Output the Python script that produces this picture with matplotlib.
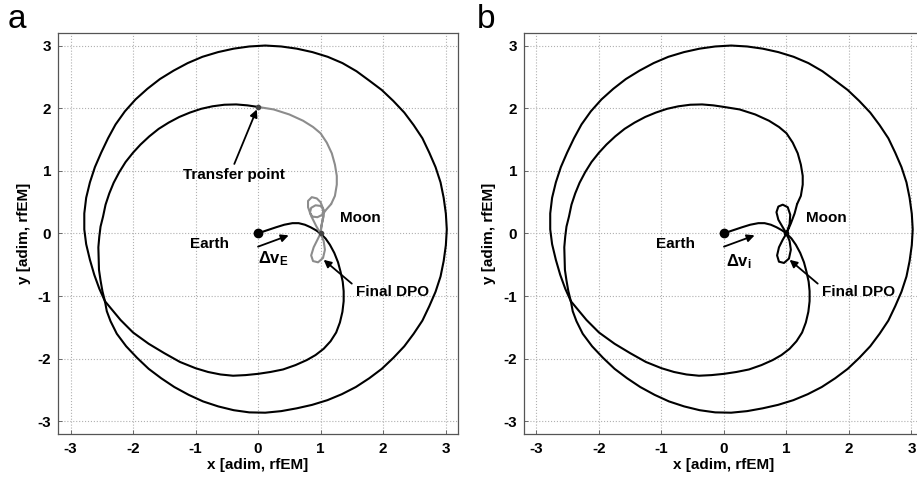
import matplotlib
matplotlib.use("Agg")
import matplotlib.pyplot as plt

plt.rcParams['font.family'] = ['Liberation Sans', 'DejaVu Sans']
plt.rcParams['mathtext.fontset'] = 'custom'
plt.rcParams['mathtext.rm'] = 'Liberation Sans'
plt.rcParams['mathtext.bf'] = 'Liberation Sans:bold'
plt.rcParams['mathtext.it'] = 'Liberation Sans:italic'

# ---- data (adimensional Earth-Moon rotating frame) ----
# 1) Earth departure -> lunar swing-by -> lower inner arc -> crossing point
dep_x = [0.00, 0.08, 0.17, 0.29, 0.42, 0.55, 0.65, 0.75, 0.84, 0.93, 1.00,
         1.08, 1.15, 1.22, 1.28, 1.32, 1.355, 1.37, 1.37, 1.35, 1.31, 1.25,
         1.16, 1.05, 0.92, 0.78, 0.60, 0.40, 0.20, 0.00, -0.20, -0.40, -0.60,
         -0.80, -1.00, -1.25, -1.50, -1.75, -2.00, -2.20, -2.35, -2.45]
dep_y = [0.00, 0.03, 0.06, 0.10, 0.14, 0.165, 0.165, 0.14, 0.10, 0.05, 0.00,
         -0.08, -0.18, -0.31, -0.46, -0.61, -0.77, -0.92, -1.08, -1.25, -1.42, -1.58,
         -1.72, -1.84, -1.94, -2.02, -2.10, -2.17, -2.21, -2.24, -2.26, -2.27, -2.25,
         -2.21, -2.15, -2.05, -1.91, -1.76, -1.58, -1.38, -1.20, -1.08]

# 2) large outer loop, from the crossing point round and back to it
outer_x = [-2.45, -2.54, -2.62, -2.69, -2.75, -2.78, -2.78, -2.75, -2.69,
           -2.61, -2.51, -2.40, -2.28, -2.13, -1.96, -1.77, -1.57, -1.35,
           -1.125, -0.89, -0.64, -0.39, -0.14, 0.115, 0.37, 0.62, 0.87, 1.115,
           1.35, 1.575, 1.78, 1.98, 2.165, 2.34, 2.49, 2.63, 2.74, 2.84, 2.92,
           2.97, 3.005, 3.02, 3.005, 2.97, 2.92, 2.84, 2.74, 2.63, 2.49, 2.34,
           2.165, 1.98, 1.78, 1.565, 1.34, 1.11, 0.865, 0.62, 0.37, 0.115,
           -0.14, -0.39, -0.636, -0.88, -1.11, -1.34, -1.55, -1.75, -1.935,
           -2.11, -2.26, -2.36, -2.42, -2.45]
outer_y = [-1.08, -0.88, -0.66, -0.42, -0.17, 0.065, 0.32, 0.57, 0.816,
           1.06, 1.29, 1.52, 1.74, 1.95, 2.14, 2.31, 2.465, 2.60,
           2.72, 2.82, 2.895, 2.95, 2.985, 3.00, 2.985, 2.95, 2.895, 2.82,
           2.72, 2.59, 2.44, 2.29, 2.115, 1.93, 1.73, 1.52, 1.29, 1.06, 0.816,
           0.57, 0.317, 0.065, -0.187, -0.44, -0.686, -0.93, -1.16, -1.39, -1.60, -1.80,
           -1.985, -2.16, -2.31, -2.45, -2.565, -2.66, -2.735, -2.79, -2.835, -2.86,
           -2.855, -2.82, -2.76, -2.68, -2.575, -2.45, -2.31, -2.16, -1.985,
           -1.80, -1.60, -1.40, -1.24, -1.08]

# 3) upper inner arc, from the crossing point to the transfer point
inner_x = [-2.45, -2.49, -2.52, -2.545, -2.55, -2.555, -2.54, -2.52, -2.48,
           -2.44, -2.38, -2.31, -2.22, -2.12, -2.00, -1.88, -1.74, -1.59,
           -1.43, -1.26, -1.09, -0.91, -0.73, -0.54, -0.35, -0.17, 0.00]
inner_y = [-1.08, -0.92, -0.75, -0.58, -0.40, -0.22, -0.05, 0.11, 0.27,
           0.46, 0.64, 0.81, 0.98, 1.14, 1.29, 1.42, 1.55, 1.67,
           1.77, 1.86, 1.93, 1.99, 2.03, 2.055, 2.06, 2.045, 2.02]

# 4) transfer arc from the transfer point down towards the Moon
arc_x = [0.00, 0.25, 0.50, 0.72, 0.88, 1.00, 1.10, 1.18, 1.23, 1.26, 1.26,
         1.23, 1.17]
arc_y = [2.02, 1.98, 1.90, 1.80, 1.70, 1.60, 1.45, 1.28, 1.10, 0.92, 0.78,
         0.60, 0.47]

# 5a) panel a: final distant periodic orbit around the Moon (grey)
dpo_a_x = [1.17, 1.09, 1.03, 0.95, 0.87, 0.83, 0.85, 0.92, 1.00, 1.05, 1.05,
           1.02, 1.00, 0.95, 0.89, 0.85, 0.88, 0.96, 1.04, 1.07, 1.05, 1.00,
           0.93, 0.85, 0.80, 0.80, 0.86, 0.94, 1.00, 1.04, 1.04, 1.01, 1.00]
dpo_a_y = [0.47, 0.38, 0.30, 0.26, 0.27, 0.33, 0.41, 0.45, 0.44, 0.38, 0.28,
           0.15, 0.00, -0.10, -0.22, -0.35, -0.44, -0.46, -0.39, -0.26, -0.12,
           0.00, 0.12, 0.28, 0.42, 0.52, 0.58, 0.56, 0.50, 0.40, 0.25, 0.10, 0.00]

# 5b) panel b: direct insertion into the DPO (black)
dpo_b_x = [1.17, 1.13, 1.07, 1.00, 0.94, 0.88, 0.85, 0.88, 0.96, 1.04, 1.07,
           1.05, 1.00, 0.94, 0.87, 0.84, 0.87, 0.94, 1.02, 1.06, 1.05, 1.00]
dpo_b_y = [0.47, 0.32, 0.16, 0.00, -0.10, -0.22, -0.35, -0.45, -0.47, -0.40,
           -0.26, -0.12, 0.00, 0.10, 0.22, 0.34, 0.43, 0.46, 0.42, 0.30, 0.15, 0.00]

ticks = [-3, -2, -1, 0, 1, 2, 3]
earth = (0.0, 0.0)
moon = (1.0, 0.0)
transfer_pt = (0.0, 2.02)

fig = plt.figure(figsize=(9.17, 4.86), dpi=100)
ax_a = fig.add_axes([0.0633, 0.107, 0.4362, 0.8251])
ax_b = fig.add_axes([0.5714, 0.107, 0.4362, 0.8251])

LW = 1.5
GREY = '#8c8c8c'
arrow = dict(arrowstyle='-|>', lw=1.3, color='k', mutation_scale=11,
             shrinkA=0, shrinkB=0)
tfont = dict(fontsize=11, fontweight='bold')
line_kw = dict(lw=LW, zorder=3, solid_joinstyle='round', solid_capstyle='round')

for ax in (ax_a, ax_b):
    for xs, ys in ((dep_x, dep_y), (outer_x, outer_y), (inner_x, inner_y)):
        ax.plot(xs, ys, color='k', **line_kw)
    ax.set_xlim(-3.2, 3.2)
    ax.set_ylim(-3.2, 3.2)
    ax.set_xticks(ticks)
    ax.set_yticks(ticks)
    ax.set_xticklabels([str(t) for t in ticks], fontsize=11, fontweight='bold')
    ax.set_yticklabels([str(t) for t in ticks], fontsize=11, fontweight='bold')
    ax.tick_params(direction='in', length=3, width=0.6, color='#555555')
    ax.tick_params(axis='x', pad=6)
    ax.tick_params(axis='y', pad=5)
    ax.grid(True, linestyle=':', color='#b0b0b0', lw=0.8)
    ax.set_axisbelow(True)
    for s in ax.spines.values():
        s.set_color('#555555')
        s.set_linewidth(0.9)
    ax.set_xlabel('x [adim, rfEM]', fontsize=11, fontweight='bold', labelpad=1)
    ax.set_ylabel('y [adim, rfEM]', fontsize=11, fontweight='bold', labelpad=5)
    ax.plot([earth[0]], [earth[1]], 'o', color='k', ms=6, zorder=5)
    ax.text(-0.77, -0.16, 'Earth', ha='center', va='center', **tfont)
    ax.text(1.64, 0.25, 'Moon', ha='center', va='center', **tfont)
    ax.text(2.16, -0.94, 'Final DPO', ha='center', va='center', **tfont)
    ax.annotate('', xy=(0.49, -0.03), xytext=(0.0, -0.21), arrowprops=arrow)
    ax.annotate('', xy=(1.05, -0.42), xytext=(1.5, -0.80), arrowprops=arrow)

# panel a
ax_a.plot(arc_x, arc_y, color=GREY, **line_kw)
ax_a.plot(dpo_a_x, dpo_a_y, color=GREY, **line_kw)
ax_a.plot([transfer_pt[0]], [transfer_pt[1]], 'o', color='#444444', ms=3, zorder=5)
ax_a.plot([moon[0]], [moon[1]], 'o', color='#444444', ms=3, zorder=5)
ax_a.text(-0.39, 0.94, 'Transfer point', ha='center', va='center', **tfont)
ax_a.annotate('', xy=(-0.02, 1.98), xytext=(-0.38, 1.11), arrowprops=arrow)
ax_a.text(0.0, -0.47, r'$\mathbf{\Delta v}_{\mathbf{E}}$', ha='left',
          va='baseline', fontsize=12)

# panel b
ax_b.plot(arc_x, arc_y, color='k', **line_kw)
ax_b.plot(dpo_b_x, dpo_b_y, color='k', **line_kw)
ax_b.plot([moon[0]], [moon[1]], 'o', color='k', ms=3, zorder=5)
ax_b.text(0.03, -0.53, r'$\mathbf{\Delta v}_{\mathbf{i}}$', ha='left',
          va='baseline', fontsize=12)

fig.text(8 / 917, 1 - 28 / 486, 'a', fontsize=24, ha='left', va='baseline')
fig.text(477 / 917, 1 - 28 / 486, 'b', fontsize=24, ha='left', va='baseline')

fig.savefig('out.png', dpi=100)
